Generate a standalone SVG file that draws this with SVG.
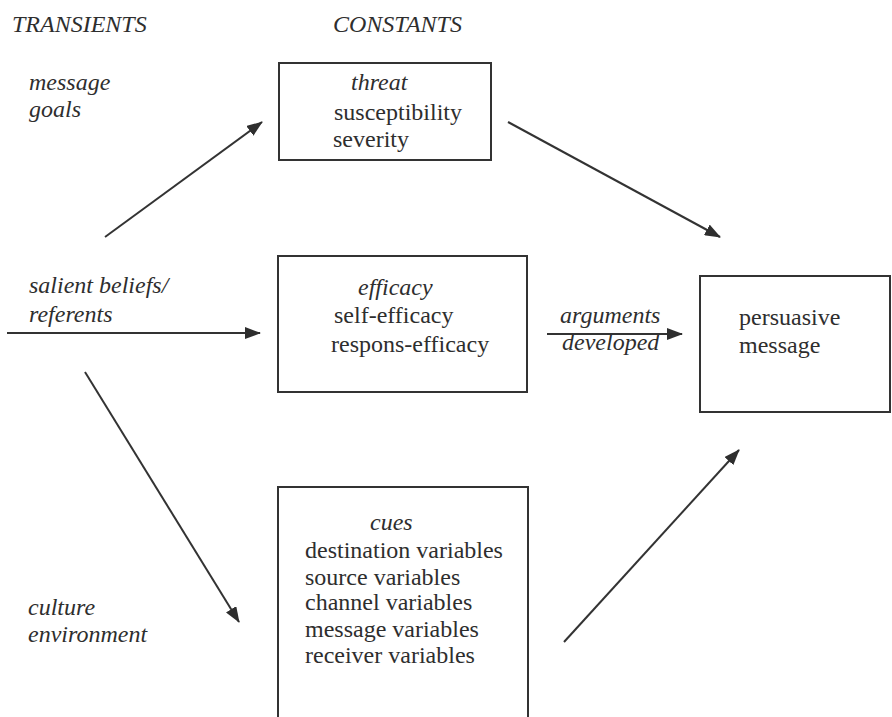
<svg xmlns="http://www.w3.org/2000/svg" width="892" height="717" viewBox="0 0 892 717">
  <style>
    text { font-size: 24px; fill: #2e2e2e; }
    .it { font-style: italic; }
    .box { fill: none; stroke: #333; stroke-width: 2; }
    .conn line { stroke: #333; stroke-width: 2; marker-end: url(#arrow); }
  </style>
  <defs>
    <marker id="arrow" markerUnits="userSpaceOnUse" markerWidth="16" markerHeight="12" refX="15" refY="6" orient="auto">
      <path d="M0,0 L16,6 L0,12 z" fill="#2e2e2e"/>
    </marker>
  </defs>
  <rect width="892" height="717" fill="#ffffff"/>

  <g font-family="Liberation Serif, serif">
  <g id="headers">
    <text class="it" x="12" y="32">TRANSIENTS</text>
    <text class="it" x="333" y="32">CONSTANTS</text>
  </g>

  <g id="transient-message-goals">
    <text class="it" x="29" y="90">message</text>
    <text class="it" x="29" y="117">goals</text>
  </g>
  <g id="transient-salient-beliefs">
    <text class="it" x="29" y="293">salient beliefs/</text>
    <text class="it" x="29" y="322">referents</text>
  </g>
  <g id="transient-culture">
    <text class="it" x="28" y="615">culture</text>
    <text class="it" x="28" y="642">environment</text>
  </g>

  <g id="threat">
    <rect class="box" x="279" y="63" width="212" height="97"/>
    <text class="it" x="351" y="90">threat</text>
    <text x="334" y="120">susceptibility</text>
    <text x="333" y="147">severity</text>
  </g>

  <g id="efficacy">
    <rect class="box" x="278" y="256" width="249" height="136"/>
    <text class="it" x="358" y="295">efficacy</text>
    <text x="334" y="323">self-efficacy</text>
    <text x="331" y="352">respons-efficacy</text>
  </g>

  <g id="cues">
    <rect class="box" x="278" y="487" width="250" height="250"/>
    <text class="it" x="370" y="530">cues</text>
    <text x="305" y="558">destination variables</text>
    <text x="305" y="585">source variables</text>
    <text x="305" y="610">channel variables</text>
    <text x="305" y="637">message variables</text>
    <text x="305" y="663">receiver variables</text>
  </g>

  <g id="persuasive-message">
    <rect class="box" x="700" y="276" width="190" height="136"/>
    <text x="739" y="325">persuasive</text>
    <text x="739" y="353">message</text>
  </g>

  <g id="connector-label">
    <text class="it" x="560" y="323">arguments</text>
    <text class="it" x="562" y="350">developed</text>
  </g>
  </g>

  <g id="connectors" class="conn">
    <line x1="105" y1="237" x2="262" y2="122"/>
    <line x1="7" y1="333" x2="260" y2="333"/>
    <line x1="85" y1="372" x2="239" y2="622"/>
    <line x1="508" y1="122" x2="720" y2="237"/>
    <line x1="547" y1="334" x2="682" y2="334"/>
    <line x1="564" y1="642" x2="739" y2="450"/>
  </g>
</svg>
